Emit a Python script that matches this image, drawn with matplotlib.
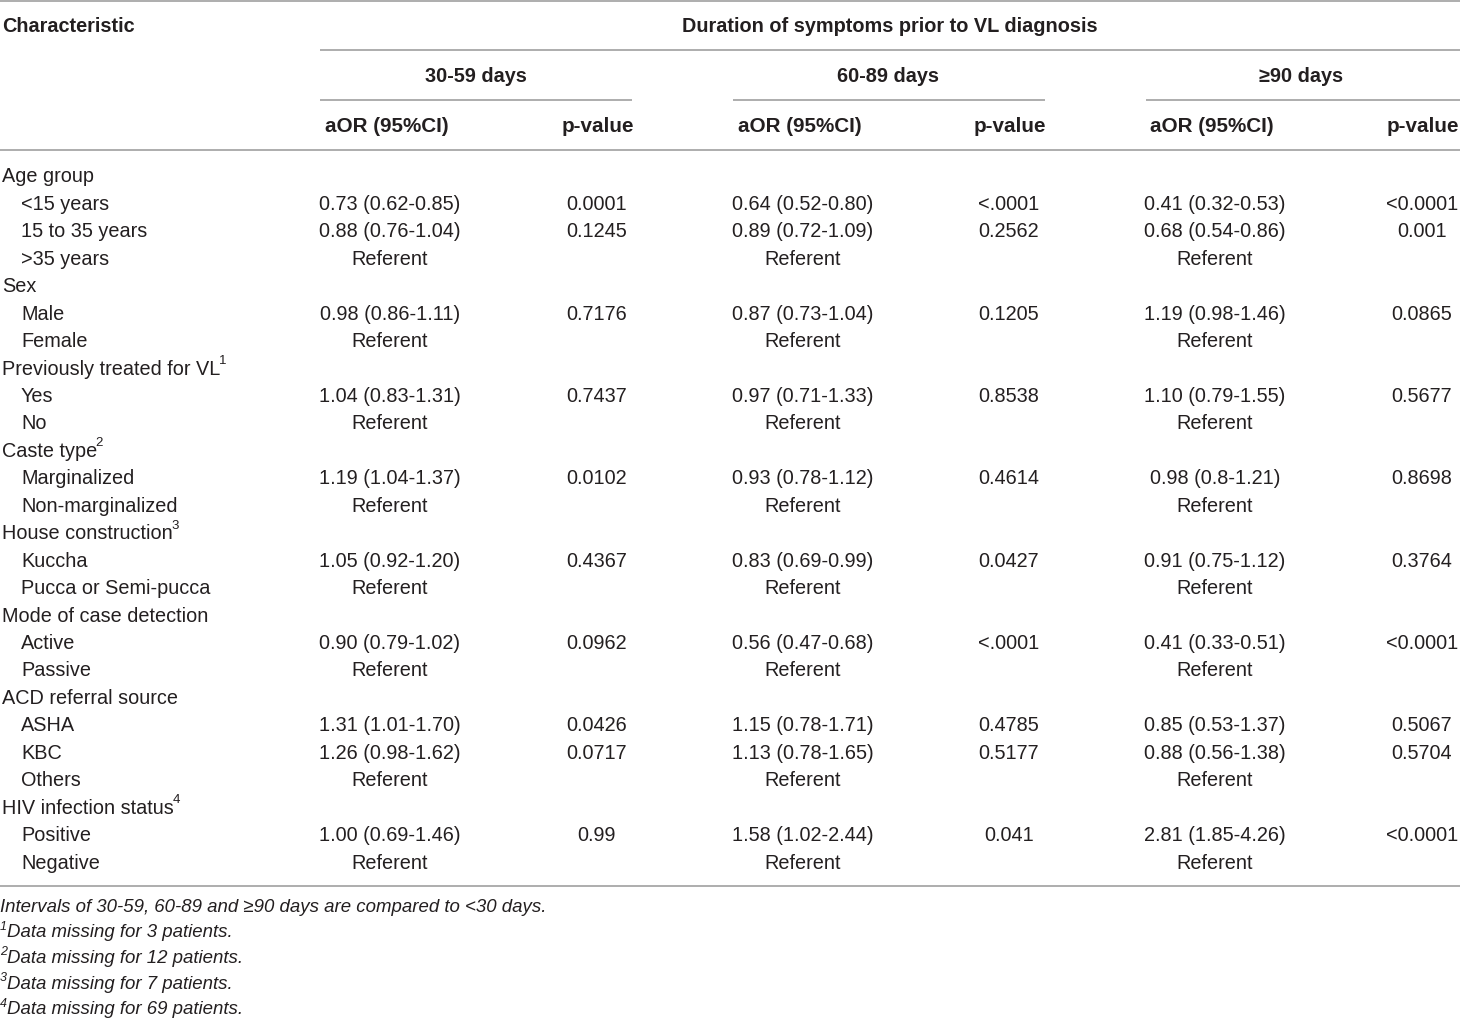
import matplotlib
matplotlib.use("Agg")
import matplotlib.pyplot as plt

plt.rcParams['font.family'] = ['Liberation Sans', 'DejaVu Sans']

# table content
row_labels = ["Age group", "<15 years", "15 to 35 years", ">35 years",
              "Sex", "Male", "Female",
              "Previously treated for VL", "Yes", "No",
              "Caste type", "Marginalized", "Non-marginalized",
              "House construction", "Kuccha", "Pucca or Semi-pucca",
              "Mode of case detection", "Active", "Passive",
              "ACD referral source", "ASHA", "KBC", "Others",
              "HIV infection status", "Positive", "Negative"]
row_indent = [0, 1, 1, 1, 0, 1, 1, 0, 1, 1, 0, 1, 1, 0, 1, 1,
              0, 1, 1, 0, 1, 1, 1, 0, 1, 1]
row_sup = {"Previously treated for VL": "1", "Caste type": "2",
           "House construction": "3", "HIV infection status": "4"}

group_names = ["30-59 days", "60-89 days", "\u226590 days"]

aor_30_59 = ["", "0.73 (0.62-0.85)", "0.88 (0.76-1.04)", "Referent",
             "", "0.98 (0.86-1.11)", "Referent",
             "", "1.04 (0.83-1.31)", "Referent",
             "", "1.19 (1.04-1.37)", "Referent",
             "", "1.05 (0.92-1.20)", "Referent",
             "", "0.90 (0.79-1.02)", "Referent",
             "", "1.31 (1.01-1.70)", "1.26 (0.98-1.62)", "Referent",
             "", "1.00 (0.69-1.46)", "Referent"]
p_30_59 = ["", "0.0001", "0.1245", "", "", "0.7176", "", "", "0.7437", "",
           "", "0.0102", "", "", "0.4367", "", "", "0.0962", "",
           "", "0.0426", "0.0717", "", "", "0.99", ""]

aor_60_89 = ["", "0.64 (0.52-0.80)", "0.89 (0.72-1.09)", "Referent",
             "", "0.87 (0.73-1.04)", "Referent",
             "", "0.97 (0.71-1.33)", "Referent",
             "", "0.93 (0.78-1.12)", "Referent",
             "", "0.83 (0.69-0.99)", "Referent",
             "", "0.56 (0.47-0.68)", "Referent",
             "", "1.15 (0.78-1.71)", "1.13 (0.78-1.65)", "Referent",
             "", "1.58 (1.02-2.44)", "Referent"]
p_60_89 = ["", "<.0001", "0.2562", "", "", "0.1205", "", "", "0.8538", "",
           "", "0.4614", "", "", "0.0427", "", "", "<.0001", "",
           "", "0.4785", "0.5177", "", "", "0.041", ""]

aor_90 = ["", "0.41 (0.32-0.53)", "0.68 (0.54-0.86)", "Referent",
          "", "1.19 (0.98-1.46)", "Referent",
          "", "1.10 (0.79-1.55)", "Referent",
          "", "0.98 (0.8-1.21)", "Referent",
          "", "0.91 (0.75-1.12)", "Referent",
          "", "0.41 (0.33-0.51)", "Referent",
          "", "0.85 (0.53-1.37)", "0.88 (0.56-1.38)", "Referent",
          "", "2.81 (1.85-4.26)", "Referent"]
p_90 = ["", "<0.0001", "0.001", "", "", "0.0865", "", "", "0.5677", "",
        "", "0.8698", "", "", "0.3764", "", "", "<0.0001", "",
        "", "0.5067", "0.5704", "", "", "<0.0001", ""]

footnotes = [("", "Intervals of 30-59, 60-89 and \u226590 days are compared to <30 days."),
             ("1", "Data missing for 3 patients."),
             ("2", "Data missing for 12 patients."),
             ("3", "Data missing for 7 patients."),
             ("4", "Data missing for 69 patients.")]

# layout (pixel coordinates)
W, H = 1460, 1021
txt = "#231f20"
rule = "#a0a0a0"
fs = 14.3

fig = plt.figure(figsize=(W / 100, H / 100), dpi=100)
ax = fig.add_axes([0, 0, 1, 1])
ax.set_xlim(0, W)
ax.set_ylim(H, 0)
ax.axis("off")

def hline(y, x0, x1):
    ax.plot([x0, x1], [y, y], color=rule, lw=1.2, solid_capstyle="butt")

hline(1, 0, W)
hline(50, 320, W)
hline(100, 320, 632)
hline(100, 733, 1045)
hline(100, 1146, W)
hline(150, 0, W)
hline(886, 0, W)

ax.text(2, 26, "Characteristic", fontsize=fs, fontweight="bold", color=txt,
        va="center", ha="left")
ax.text(890, 26, "Duration of symptoms prior to VL diagnosis", fontsize=fs,
        fontweight="bold", color=txt, va="center", ha="center")

aor_x = [390, 803, 1215]
p_x = [597, 1009, 1422]
group_x = [476, 888, 1301]
columns = [(aor_30_59, p_30_59), (aor_60_89, p_60_89), (aor_90, p_90)]

for gi, name in enumerate(group_names):
    ax.text(group_x[gi], 76, name, fontsize=fs, fontweight="bold", color=txt,
            va="center", ha="center")
    ax.text(aor_x[gi] - 3, 126, "aOR (95%CI)", fontsize=fs + 0.6, fontweight="bold",
            color=txt, va="center", ha="center")
    ax.text(p_x[gi] + 1, 126, "p-value", fontsize=fs + 0.6, fontweight="bold",
            color=txt, va="center", ha="center")

y0, dy = 176, (862 - 176) / 25
sup_items = []
for i, lab in enumerate(row_labels):
    y = y0 + i * dy + 1
    t = ax.text(2 + 19 * row_indent[i], y, lab, fontsize=fs, color=txt,
                va="center", ha="left")
    if lab in row_sup:
        sup_items.append((t, y, row_sup[lab]))
    for gi, (aor, pv) in enumerate(columns):
        if aor[i]:
            ax.text(aor_x[gi], y, aor[i], fontsize=fs, color=txt,
                    va="center", ha="center")
        if pv[i]:
            ax.text(p_x[gi], y, pv[i], fontsize=fs, color=txt,
                    va="center", ha="center")

fy0, fdy = 907, 25.7
for k, (sup, note) in enumerate(footnotes):
    y = fy0 + k * fdy
    x = 0
    if sup:
        ax.text(0, y - 6, sup, fontsize=9, style="italic", color=txt,
                va="center", ha="left")
        x = 7
    ax.text(x, y, note, fontsize=13.4, style="italic", color=txt,
            va="center", ha="left")

# superscripts placed after the label text
fig.canvas.draw()
renderer = fig.canvas.get_renderer()
inv = ax.transData.inverted()
for t, y, sup in sup_items:
    bb = t.get_window_extent(renderer)
    xr, _ = inv.transform((bb.x1, bb.y1))
    ax.text(xr - 1.5, y - 8, sup, fontsize=9.5, color=txt,
            va="center", ha="left")

fig.savefig("out.png", dpi=100)
